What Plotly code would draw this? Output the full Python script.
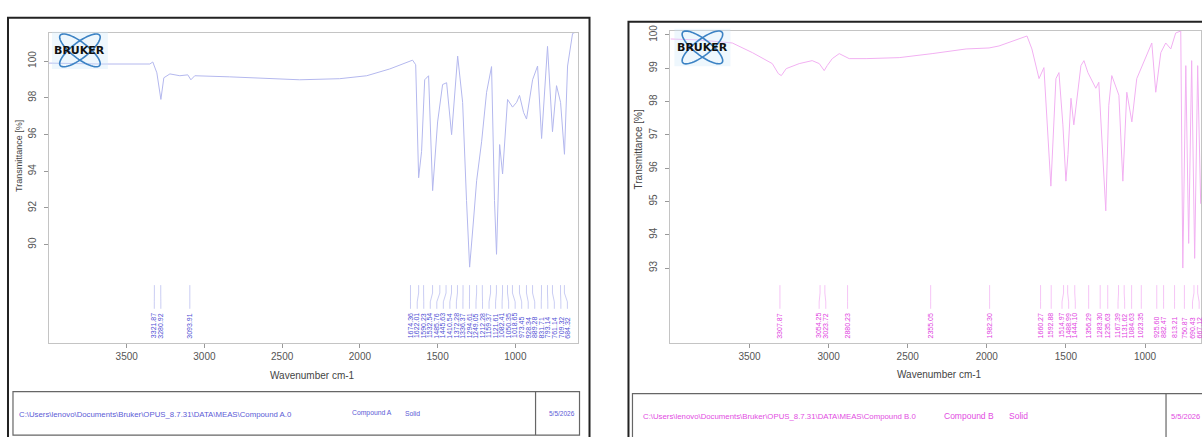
import numpy as np
import plotly.graph_objects as go

W, H = 1202, 437

# ---------------- data ----------------
wn_a = [4000, 3672, 3351, 3332, 3306, 3280, 3261, 3222, 3158, 3107,
        3087, 3062, 2837, 2580, 2387, 2130, 1956, 1808, 1712, 1661,
        1641, 1622, 1603, 1583, 1558, 1532, 1500, 1468, 1442, 1410,
        1371, 1339, 1314, 1294, 1269, 1249, 1217, 1185, 1153, 1134,
        1121, 1101, 1082, 1050, 1018, 992, 973, 947, 928, 889,
        857, 831, 793, 761, 735, 709, 684, 664, 632, 607]
t_a = [99.89, 99.84, 99.84, 99.95, 99.36, 97.91, 99.09, 99.30, 99.20, 99.25,
       98.98, 99.20, 99.14, 99.04, 98.98, 99.04, 99.20, 99.57, 99.89, 100.05,
       99.80, 93.64, 95.08, 98.98, 99.20, 92.94, 96.68, 98.72, 98.82, 95.99,
       100.27, 97.75, 92.40, 88.77, 91.34, 93.48, 95.60, 98.30, 99.70, 92.40,
       89.47, 95.45, 93.85, 97.91, 97.49, 97.75, 98.13, 97.20, 96.84, 98.98,
       99.73, 95.78, 100.80, 96.15, 98.66, 97.75, 94.92, 99.73, 101.50, 101.60]

wn_b = [4000, 3817, 3609, 3482, 3356, 3318, 3299, 3268, 3186, 3104,
        3059, 3028, 3009, 2977, 2933, 2883, 2870, 2763, 2554, 2346,
        2131, 1986, 1923, 1746, 1715, 1670, 1639, 1595, 1563, 1544,
        1519, 1500, 1487, 1468, 1450, 1405, 1386, 1361, 1336, 1311,
        1292, 1248, 1229, 1210, 1165, 1140, 1115, 1083, 1052, 1008,
        957, 932, 900, 869, 837, 806, 774, 761, 742, 724,
        705, 686, 667, 648]
t_b = [99.88, 99.85, 99.76, 99.47, 99.14, 98.84, 98.78, 98.99, 99.14, 99.23,
       99.14, 98.93, 99.08, 99.29, 99.44, 99.32, 99.29, 99.29, 99.32, 99.44,
       99.58, 99.61, 99.67, 99.97, 99.58, 98.69, 99.02, 95.46, 98.69, 98.87,
       97.30, 95.61, 96.41, 98.10, 97.30, 99.08, 99.23, 98.87, 98.63, 98.40,
       98.58, 94.72, 97.89, 98.78, 98.19, 95.61, 98.28, 97.39, 98.69, 99.17,
       99.76, 98.28, 99.47, 99.76, 99.58, 100.06, 100.12, 93.00, 99.08, 93.74,
       99.23, 93.29, 99.08, 94.93]

peaks_a = [3321.87, 3280.92, 3093.91, 1674.36, 1622.01, 1590.23, 1532.54,
           1485.76, 1445.63, 1410.54, 1372.28, 1336.37, 1294.61, 1249.05,
           1212.28, 1159.37, 1121.61, 1082.41, 1050.35, 1018.65, 973.45,
           928.34, 889.28, 831.71, 793.14, 761.14, 709.32, 684.32]
peaks_b = [3307.87, 3054.25, 3023.72, 2880.23, 2355.05, 1982.30, 1660.27,
           1592.88, 1514.97, 1488.99, 1444.10, 1356.29, 1283.30, 1235.63,
           1167.39, 1131.62, 1084.63, 1023.35, 925.60, 882.47, 813.21,
           750.87, 690.43, 667.12]

xticks = [3500, 3000, 2500, 2000, 1500, 1000]
yticks_a = [90, 92, 94, 96, 98, 100]
yticks_b = [93, 94, 95, 96, 97, 98, 99, 100]

path_a = "C:\\Users\\lenovo\\Documents\\Bruker\\OPUS_8.7.31\\DATA\\MEAS\\Compound A.0"
path_b = "C:\\Users\\lenovo\\Documents\\Bruker\\OPUS_8.7.31\\DATA\\MEAS\\Compound B.0"
name_a, name_b = "Compound A", "Compound B"
state = "Solid"
date = "5/5/2026"
xtitle = "Wavenumber cm-1"
ytitle = "Transmittance [%]"


# ---------------- helpers ----------------
def px(x):
    return x / W


def py(y):
    return 1 - y / H


def spread(peaks, gap, hi, lo):
    pk = sorted(peaks, reverse=True)
    groups = [[p] for p in pk]
    changed = True
    while changed:
        changed = False
        out = []
        for g in groups:
            if out:
                pg = out[-1]
                low_prev = np.mean(pg) - (len(pg) - 1) / 2 * gap
                high_cur = np.mean(g) + (len(g) - 1) / 2 * gap
                if low_prev - high_cur < gap:
                    out[-1] = pg + g
                    changed = True
                    continue
            out.append(g)
        groups = out
    pos = []
    for g in groups:
        n = len(g)
        top = min(np.mean(g) + (n - 1) / 2 * gap, hi)
        bottom = top - (n - 1) * gap
        if bottom < lo:
            top += lo - bottom
        pos += [top - i * gap for i in range(n)]
    return pk, pos


FONT = "Liberation Sans, Arial, sans-serif"
shapes = []
annotations = []

fig = go.Figure()
fig.add_trace(go.Scatter(x=wn_a, y=t_a, mode="lines", xaxis="x", yaxis="y",
                         line=dict(color="#b4b8ee", width=1), hoverinfo="skip"))
fig.add_trace(go.Scatter(x=wn_b, y=t_b, mode="lines", xaxis="x2", yaxis="y2",
                         line=dict(color="#f2b0f2", width=1), hoverinfo="skip"))

panels = [
    dict(xref="x", peaks=peaks_a, hi=3990, lo=625, lab_col="#4f4fd4", ln_col="#bcc0f0"),
    dict(xref="x2", peaks=peaks_b, hi=3990, lo=655, lab_col="#e040e0", ln_col="#f4b6f4"),
]

for p in panels:
    pk, pos = spread(p["peaks"], 42, p["hi"], p["lo"])
    for v, lx in zip(pk, pos):
        path = (f"M {lx},{py(307)} L {lx},{py(300)} L {v},{py(291)} L {v},{py(283)}")
        shapes.append(dict(type="path", xref=p["xref"], yref="paper", path=path,
                           line=dict(color=p["ln_col"], width=0.8)))
        annotations.append(dict(x=lx, y=py(339), xref=p["xref"], yref="paper",
                                text=f"{v:.2f}", showarrow=False, textangle=-90,
                                xanchor="center", yanchor="bottom",
                                font=dict(family=FONT, size=7, color=p["lab_col"])))

# outer black frames
shapes.append(dict(type="rect", xref="paper", yref="paper", x0=px(8), x1=px(590),
                   y0=py(470), y1=py(12), line=dict(color="#222", width=2)))
shapes.append(dict(type="rect", xref="paper", yref="paper", x0=px(629), x1=px(1240),
                   y0=py(470), y1=py(16), line=dict(color="#222", width=2)))

# footer boxes
shapes.append(dict(type="rect", xref="paper", yref="paper", x0=px(13), x1=px(580),
                   y0=py(435), y1=py(391), line=dict(color="#666", width=1.2)))
shapes.append(dict(type="line", xref="paper", yref="paper", x0=px(536), x1=px(536),
                   y0=py(435), y1=py(391), line=dict(color="#666", width=1.2)))
shapes.append(dict(type="rect", xref="paper", yref="paper", x0=px(633), x1=px(1240),
                   y0=py(450), y1=py(393), line=dict(color="#666", width=1.2)))
shapes.append(dict(type="line", xref="paper", yref="paper", x0=px(1167), x1=px(1167),
                   y0=py(450), y1=py(393), line=dict(color="#666", width=1.2)))


def foot(x, y, text, size, color):
    annotations.append(dict(x=px(x), y=py(y), xref="paper", yref="paper", text=text,
                            showarrow=False, xanchor="left", yanchor="middle",
                            font=dict(family=FONT, size=size, color=color)))


foot(17, 414, path_a, 7.8, "#5b5bd6")
foot(350, 413, name_a, 6.8, "#5b5bd6")
foot(403, 413, state, 6.8, "#5b5bd6")
foot(547, 413, date, 6.5, "#5b5bd6")
foot(642, 416, path_b, 7.8, "#e24ce2")
foot(943, 416, name_b, 8.5, "#e24ce2")
foot(1008, 416, state, 8.5, "#e24ce2")
foot(1170, 416, date, 7.5, "#e24ce2")


# titles
def title(x, y, text, angle, size=10):
    annotations.append(dict(x=px(x), y=py(y), xref="paper", yref="paper", text=text,
                            showarrow=False, textangle=angle, xanchor="center",
                            yanchor="middle", font=dict(family=FONT, size=size, color="#444")))


title(313, 375, xtitle, 0)
title(940, 374, xtitle, 0)
title(19, 152, ytitle, -90, 9)
title(639, 145, ytitle, -90, 10)


# Bruker logos
def logo(cx, cy, w):
    t = np.linspace(0, 2 * np.pi, 60)
    shapes.append(dict(type="rect", xref="paper", yref="paper", x0=px(cx - 28), x1=px(cx + 28),
                       y0=py(cy + 19), y1=py(cy - 19), fillcolor="rgba(205,232,250,0.35)",
                       line=dict(width=0), layer="above"))
    for ang in (38, -38):
        th = np.radians(ang)
        a, b = 25, 8
        xs = cx + a * np.cos(t) * np.cos(th) - b * np.sin(t) * np.sin(th)
        ys = cy + a * np.cos(t) * np.sin(th) + b * np.sin(t) * np.cos(th)
        path = "M " + " L ".join(f"{px(x):.5f},{py(y):.5f}" for x, y in zip(xs, ys)) + " Z"
        shapes.append(dict(type="path", xref="paper", yref="paper", path=path,
                           line=dict(color="#3b82c4", width=1.6), layer="above"))
    annotations.append(dict(x=px(cx), y=py(cy), xref="paper", yref="paper",
                            text="<b>BRUKER</b>", showarrow=False, xanchor="center",
                            yanchor="middle",
                            font=dict(family="DejaVu Sans, Arial", size=w, color="#111")))


logo(80, 45, 11)
logo(703, 42, 11)

axis_common = dict(showgrid=False, zeroline=False, showline=True, linecolor="#c4c4c4",
                   linewidth=1, mirror=True, ticks="outside", ticklen=4, tickcolor="#999",
                   tickfont=dict(family=FONT, size=10, color="#555"))

fig.update_layout(
    width=W, height=H, margin=dict(l=0, r=0, t=0, b=0),
    paper_bgcolor="white", plot_bgcolor="white", showlegend=False,
    xaxis=dict(domain=[px(49), px(578)], range=[4000, 600], tickvals=xticks,
               anchor="y", **axis_common),
    yaxis=dict(domain=[py(342), py(27)], range=[84.62, 101.55], tickvals=yticks_a,
               tickangle=-90, anchor="x", ticklabelstandoff=4, **axis_common),
    xaxis2=dict(domain=[px(671), 1.0], range=[4000, 646], tickvals=xticks,
                anchor="y2", **axis_common),
    yaxis2=dict(domain=[py(342), py(25)], range=[90.74, 100.13], tickvals=yticks_b,
                tickangle=-90, anchor="x2", ticklabelstandoff=4, **axis_common),
    shapes=shapes, annotations=annotations,
)

fig.write_html("out.html")
